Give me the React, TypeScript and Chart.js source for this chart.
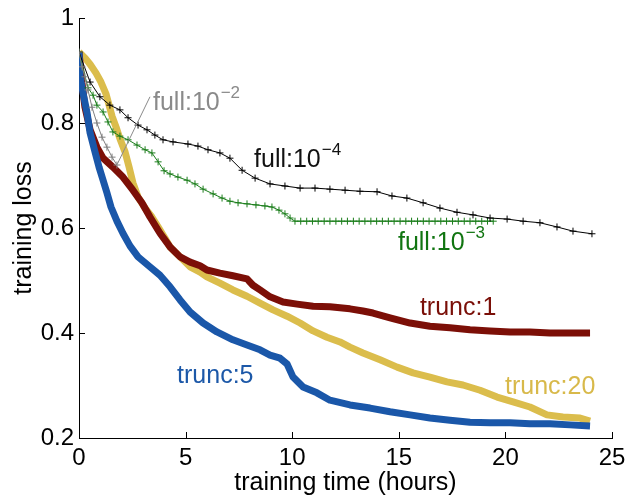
import React, { useEffect, useRef } from 'react';
import { Chart, registerables } from 'chart.js';

Chart.register(...registerables);

const FONT = '"Liberation Sans", Arial, Helvetica, sans-serif';

// axis ticks
const xTickValues = [0, 5, 10, 15, 20, 25];
const yTickValues = [0.2, 0.4, 0.6, 0.8, 1];

// full:10^-2 (grey)
const full2Hours = [0, 0.14, 0.28, 0.42, 0.61, 0.84, 1.08, 1.31, 1.55, 1.78];
const full2Loss = [0.935, 0.907, 0.888, 0.863, 0.83, 0.8, 0.773, 0.754, 0.735, 0.72];

// full:10^-4 (black)
const full4Hours = [0, 0.52, 0.98, 1.45, 1.92, 2.3, 2.77, 3.19, 3.56, 3.94, 4.41, 5.11, 5.58, 6.05, 6.61, 7.08, 7.65, 8.26, 8.96, 9.66, 10.37, 11.07, 11.77, 12.48, 13.18, 13.98, 14.68, 15.38, 16.14, 16.93, 17.73, 18.48, 19.28, 20.08, 20.83, 21.62, 22.42, 23.17, 24.06];
const full4Loss = [0.935, 0.878, 0.85, 0.834, 0.825, 0.81, 0.796, 0.787, 0.777, 0.768, 0.764, 0.76, 0.756, 0.749, 0.743, 0.733, 0.71, 0.695, 0.684, 0.68, 0.676, 0.676, 0.674, 0.672, 0.67, 0.669, 0.661, 0.657, 0.648, 0.638, 0.63, 0.625, 0.619, 0.617, 0.613, 0.61, 0.602, 0.594, 0.589];

// full:10^-3 (green)
const full3Hours = [0, 0.42, 0.66, 0.84, 1.13, 1.36, 1.59, 1.92, 2.3, 2.72, 3.1, 3.42, 3.71, 3.99, 4.27, 4.64, 5.07, 5.44, 5.82, 6.29, 6.71, 7.08, 7.46, 7.88, 8.3, 8.72, 9.05, 9.38, 9.66, 9.9,
  10.13, 10.4, 10.68, 10.95, 11.22, 11.5, 11.77, 12.05, 12.32, 12.59, 12.87, 13.14, 13.41, 13.69, 13.96, 14.23, 14.51, 14.78, 15.06, 15.33, 15.6, 15.88, 16.15, 16.42, 16.7, 16.97, 17.24, 17.52, 17.79, 18.07, 18.34, 18.61, 18.89, 19.16, 19.43];
const full3Loss = [0.935, 0.867, 0.853, 0.834, 0.821, 0.802, 0.783, 0.775, 0.768, 0.758, 0.749, 0.743, 0.726, 0.709, 0.703, 0.697, 0.691, 0.684, 0.674, 0.665, 0.657, 0.651, 0.648, 0.646, 0.644, 0.642, 0.64, 0.634, 0.627, 0.619,
  0.613, 0.613, 0.613, 0.613, 0.613, 0.613, 0.613, 0.613, 0.613, 0.613, 0.613, 0.613, 0.613, 0.613, 0.613, 0.613, 0.613, 0.613, 0.613, 0.613, 0.613, 0.613, 0.613, 0.613, 0.613, 0.613, 0.613, 0.613, 0.613, 0.613, 0.613, 0.613, 0.613, 0.613, 0.613];

// trunc:5 (blue)
const trunc5Hours = [0, 0.05, 0.19, 0.38, 0.52, 0.75, 0.94, 1.13, 1.31, 1.5, 1.78, 2.06, 2.39, 2.77, 3.33, 3.8, 4.27, 4.74, 5.21, 5.82, 6.47, 7.22, 7.88, 8.49, 8.96, 9.43, 9.76, 10.04, 10.51, 11.16, 11.77, 12.71, 13.65, 14.59, 15.53, 16.46, 17.4, 18.34, 19.28, 20.22, 21.15, 22.09, 23.03, 23.97];
const trunc5Loss = [0.935, 0.888, 0.857, 0.819, 0.781, 0.745, 0.716, 0.691, 0.667, 0.64, 0.613, 0.59, 0.566, 0.545, 0.526, 0.51, 0.488, 0.463, 0.44, 0.419, 0.402, 0.387, 0.377, 0.368, 0.358, 0.352, 0.341, 0.316, 0.297, 0.286, 0.272, 0.263, 0.257, 0.25, 0.244, 0.238, 0.234, 0.23, 0.229, 0.229, 0.227, 0.227, 0.225, 0.223];

// trunc:1 (dark red)
const trunc1Hours = [0, 0.14, 0.28, 0.52, 0.84, 1.13, 1.59, 2.06, 2.53, 2.95, 3.33, 3.8, 4.27, 4.74, 5.21, 5.68, 6.0, 6.61, 7.22, 7.88, 8.16, 8.49, 8.96, 9.57, 10.23, 10.98, 11.77, 12.71, 13.32, 13.79, 14.59, 15.53, 16.46, 17.4, 18.34, 19.28, 20.22, 21.15, 22.09, 23.03, 23.97];
const trunc1Loss = [0.935, 0.876, 0.83, 0.787, 0.754, 0.733, 0.716, 0.697, 0.672, 0.648, 0.621, 0.59, 0.564, 0.545, 0.535, 0.528, 0.52, 0.514, 0.509, 0.503, 0.491, 0.482, 0.469, 0.459, 0.455, 0.451, 0.45, 0.446, 0.442, 0.438, 0.429, 0.419, 0.413, 0.41, 0.406, 0.404, 0.402, 0.402, 0.4, 0.4, 0.4];

// trunc:20 (yellow)
const trunc20Hours = [0, 0.28, 0.52, 0.8, 1.03, 1.27, 1.41, 1.55, 1.74, 1.92, 2.16, 2.35, 2.53, 2.77, 3.1, 3.42, 3.71, 4.03, 4.27, 4.74, 5.21, 5.68, 6.0, 6.61, 7.22, 7.88, 8.49, 9.1, 9.76, 10.37, 10.98, 11.63, 12.24, 12.71, 13.32, 14.12, 14.92, 15.67, 16.46, 17.26, 18.01, 18.81, 19.61, 20.36, 21.15, 21.95, 22.7, 23.5, 23.97];
const trunc20Loss = [0.935, 0.924, 0.912, 0.895, 0.878, 0.855, 0.834, 0.813, 0.792, 0.77, 0.745, 0.716, 0.686, 0.659, 0.638, 0.621, 0.602, 0.581, 0.564, 0.545, 0.526, 0.516, 0.507, 0.495, 0.482, 0.47, 0.457, 0.444, 0.432, 0.419, 0.404, 0.392, 0.383, 0.373, 0.362, 0.349, 0.335, 0.324, 0.316, 0.307, 0.301, 0.291, 0.278, 0.269, 0.259, 0.244, 0.24, 0.238, 0.232];

// in-plot labels
const labelTexts = ['full:10', 'full:10', 'full:10', 'trunc:1', 'trunc:20', 'trunc:5'];
const labelExponents = ['\u22122', '\u22124', '\u22123', '', '', ''];
const labelHours = [3.47, 8.21, 14.96, 15.99, 19.98, 4.6];
const labelLoss = [0.825, 0.716, 0.558, 0.434, 0.284, 0.305];
const labelColors = ['#8a8a8a', '#111111', '#117511', '#7a0f08', '#d8b94a', '#1c58a8'];

// leader line for full:10^-2
const leaderHours = [1.8, 3.33];
const leaderLoss = [0.722, 0.85];

const zip = (xs: number[], ys: number[]) => xs.map((x, i) => ({ x, y: ys[i] }));

const overlayPlugin = {
  id: 'overlay',
  afterDraw(chart: any) {
    const { ctx } = chart;
    const xs = chart.scales.x;
    const ys = chart.scales.y;
    ctx.save();
    ctx.strokeStyle = '#000';
    ctx.lineWidth = 1;
    ctx.beginPath();
    for (const v of xTickValues) {
      const px = Math.round(xs.getPixelForValue(v)) + 0.5;
      ctx.moveTo(px, ys.bottom);
      ctx.lineTo(px, ys.bottom - 6);
    }
    for (const v of yTickValues) {
      const py = Math.round(ys.getPixelForValue(v)) + 0.5;
      ctx.moveTo(xs.left, py);
      ctx.lineTo(xs.left + 6, py);
    }
    ctx.stroke();

    // leader line
    ctx.strokeStyle = '#8a8a8a';
    ctx.beginPath();
    ctx.moveTo(xs.getPixelForValue(leaderHours[0]), ys.getPixelForValue(leaderLoss[0]));
    ctx.lineTo(xs.getPixelForValue(leaderHours[1]), ys.getPixelForValue(leaderLoss[1]));
    ctx.stroke();

    ctx.textBaseline = 'alphabetic';
    ctx.textAlign = 'left';
    labelTexts.forEach((t, i) => {
      const px = xs.getPixelForValue(labelHours[i]);
      const py = ys.getPixelForValue(labelLoss[i]);
      ctx.fillStyle = labelColors[i];
      ctx.font = `25px ${FONT}`;
      ctx.fillText(t, px, py);
      if (labelExponents[i]) {
        const w = ctx.measureText(t).width;
        ctx.font = `17px ${FONT}`;
        ctx.fillText(labelExponents[i], px + w + 1, py - 12);
      }
    });
    ctx.restore();
  },
};

export default function App() {
  const canvasRef = useRef<HTMLCanvasElement | null>(null);

  useEffect(() => {
    if (!canvasRef.current) return;
    const thin = (data: any, color: string, radius: number) => ({
      data,
      borderColor: color,
      backgroundColor: color,
      borderWidth: 1,
      pointStyle: 'cross',
      pointRadius: radius,
      pointBorderWidth: 1,
      pointBorderColor: color,
      tension: 0,
    });
    const thick = (data: any, color: string) => ({
      data,
      borderColor: color,
      backgroundColor: color,
      borderWidth: 7,
      pointRadius: 0,
      borderJoinStyle: 'round',
      borderCapStyle: 'butt',
      tension: 0,
    });
    const chart = new Chart(canvasRef.current, {
      type: 'line',
      data: {
        datasets: [
          { label: 'full:1e-2', ...thin(zip(full2Hours, full2Loss), '#7f7f7f', 3.5) },
          { label: 'full:1e-4', ...thin(zip(full4Hours, full4Loss), '#000000', 3.5) },
          { label: 'full:1e-3', ...thin(zip(full3Hours, full3Loss), '#1a7d1a', 3.5) },
          { label: 'trunc:5', ...thick(zip(trunc5Hours, trunc5Loss), '#1a57a9') },
          { label: 'trunc:1', ...thick(zip(trunc1Hours, trunc1Loss), '#7c0f07') },
          { label: 'trunc:20', ...thick(zip(trunc20Hours, trunc20Loss), '#dbbd4c') },
        ] as any,
      },
      options: {
        animation: false,
        responsive: false,
        maintainAspectRatio: false,
        layout: { padding: { left: 0, right: 14, top: 18, bottom: 0 } },
        plugins: { legend: { display: false }, tooltip: { enabled: false } },
        scales: {
          x: {
            type: 'linear',
            min: 0,
            max: 25,
            ticks: { stepSize: 5, color: '#000', font: { family: FONT, size: 24 }, padding: 6, maxRotation: 0 },
            grid: { display: false, drawTicks: false },
            border: { display: true, color: '#000', width: 1 },
            title: { display: true, text: 'training time (hours)', color: '#000', font: { family: FONT, size: 25 }, padding: { top: 0, bottom: 0 } },
            afterFit: (s: any) => { s.height = 60; s.paddingLeft = 0; s.paddingRight = 0; },
          },
          y: {
            type: 'linear',
            min: 0.2,
            max: 1,
            ticks: {
              stepSize: 0.2,
              color: '#000',
              font: { family: FONT, size: 24 },
              padding: 5,
              callback: (v: any) => String(Number(Number(v).toFixed(1))),
            },
            grid: { display: false, drawTicks: false },
            border: { display: true, color: '#000', width: 1 },
            title: { display: true, text: 'training loss', color: '#000', font: { family: FONT, size: 25 }, padding: { top: 9, bottom: 0 } },
            afterFit: (s: any) => { s.width = 79; s.paddingTop = 0; s.paddingBottom = 0; },
          },
        },
      } as any,
      plugins: [overlayPlugin],
    });
    return () => chart.destroy();
  }, []);

  return (
    <div style={{ position: 'fixed', left: 0, top: 0, width: 626, height: 498, background: '#fff' }}>
      <canvas ref={canvasRef} width={626} height={498} style={{ display: 'block' }} />
    </div>
  );
}
